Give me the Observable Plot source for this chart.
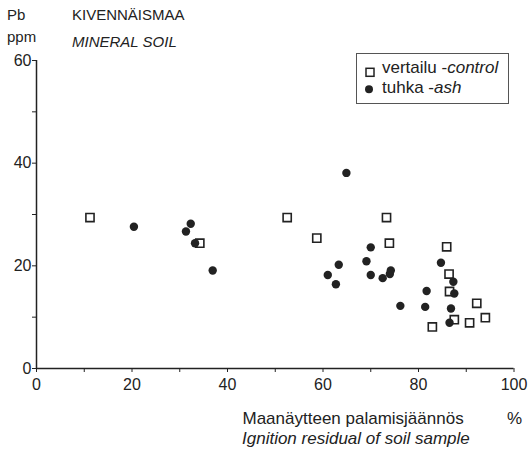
<!DOCTYPE html>
<html>
<head>
<meta charset="utf-8">
<script src="https://cdn.jsdelivr.net/npm/d3@7"></script>
<script src="https://cdn.jsdelivr.net/npm/@observablehq/plot@0.6"></script>
<style>
  html, body { margin: 0; padding: 0; background: #fff; }
  #wrap { position: relative; width: 529px; height: 453px; font-family: "Liberation Sans", Arial, sans-serif; color: #222; }
  .t { position: absolute; font-size: 15px; white-space: nowrap; line-height: 1; }
  .b { font-size: 17px; }
  .i { font-style: italic; }
  #legend { position: absolute; left: 356px; top: 53px; width: 153px; height: 51px; border: 1px solid #555; box-sizing: border-box; }
</style>
</head>
<body>
<div id="wrap"></div>
<script>
// vertailu - control (open squares)
const controlX = [11.2, 34.2, 52.5, 58.7, 73.3, 73.9, 85.9, 86.4, 86.5, 92.2, 94.0, 87.5, 90.7, 82.9];
const controlY = [29.4, 24.4, 29.4, 25.4, 29.4, 24.4, 23.7, 18.4, 15.0, 12.7, 9.9, 9.5, 8.9, 8.1];
// tuhka - ash (filled dots)
const ashX = [20.4, 32.3, 31.3, 33.2, 36.9, 64.9, 70.0, 63.3, 69.1, 84.7, 61.0, 62.7, 70.0, 72.5, 74.0, 74.2, 87.3, 81.7, 87.5, 76.2, 81.4, 86.8, 86.5];
const ashY = [27.6, 28.2, 26.7, 24.4, 19.1, 38.1, 23.6, 20.2, 20.9, 20.6, 18.2, 16.4, 18.2, 17.6, 18.4, 19.1, 16.9, 15.1, 14.6, 12.2, 12.0, 11.7, 8.9];
const xTicks = [0, 10, 20, 30, 40, 50, 60, 70, 80, 90, 100];
const yTicks = [0, 10, 20, 30, 40, 50, 60];

const control = controlX.map((x, i) => ({x, y: controlY[i]}));
const ash = ashX.map((x, i) => ({x, y: ashY[i]}));

const ink = "#222";
const chart = Plot.plot({
  width: 529,
  height: 453,
  marginLeft: 36,
  marginRight: 15.5,
  marginTop: 60,
  marginBottom: 85,
  style: {fontFamily: "Liberation Sans, Arial, sans-serif", fontSize: "16px", color: ink, background: "transparent"},
  x: {domain: [0, 100], ticks: xTicks, tickFormat: d => d % 20 === 0 ? String(d) : "", tickSize: 4, tickPadding: 6, label: null},
  y: {domain: [0, 60], ticks: yTicks, tickFormat: d => d % 20 === 0 ? String(d) : "", tickSize: 4, tickPadding: 1, label: null},
  marks: [
    Plot.ruleY([0], {stroke: ink, strokeWidth: 1.5}),
    Plot.ruleX([0], {stroke: ink, strokeWidth: 1.5}),
    Plot.dot(control, {x: "x", y: "y", symbol: "square", r: 4.6, stroke: ink, strokeWidth: 1.6, fill: "white"}),
    Plot.dot(ash, {x: "x", y: "y", r: 4.2, fill: ink, stroke: "none"})
  ]
});
const wrap = document.getElementById("wrap");
wrap.appendChild(chart);

const texts = [
  {s: "Pb", x: 7, y: 6.6, c: ""},
  {s: "ppm", x: 7, y: 28.5, c: ""},
  {s: "KIVENNÄISMAA", x: 72, y: 6.6, c: ""},
  {s: "MINERAL SOIL", x: 72, y: 34, c: "i"},
  {s: "Maanäytteen palamisjäännös", x: 242.5, y: 409.6, c: "b"},
  {s: "%", x: 507, y: 409.6, c: "b"},
  {s: "Ignition residual of soil sample", x: 242, y: 429.6, c: "b i"}
];
for (const t of texts) {
  const d = document.createElement("div");
  d.className = "t " + t.c;
  d.style.left = t.x + "px";
  d.style.top = t.y + "px";
  d.textContent = t.s;
  wrap.appendChild(d);
}

// legend
const lg = document.createElement("div");
lg.id = "legend";
lg.innerHTML = `
<svg width="30" height="48" style="position:absolute;left:0;top:0">
  <rect x="9" y="14.3" width="8" height="8" fill="white" stroke="${ink}" stroke-width="1.5"></rect>
  <circle cx="12" cy="35.3" r="4" fill="${ink}"></circle>
</svg>
<div class="t b" style="left:25px;top:5px">vertailu -<span class="i">control</span></div>
<div class="t b" style="left:25px;top:24.5px">tuhka -<span class="i">ash</span></div>`;
wrap.appendChild(lg);
</script>
</body>
</html>
